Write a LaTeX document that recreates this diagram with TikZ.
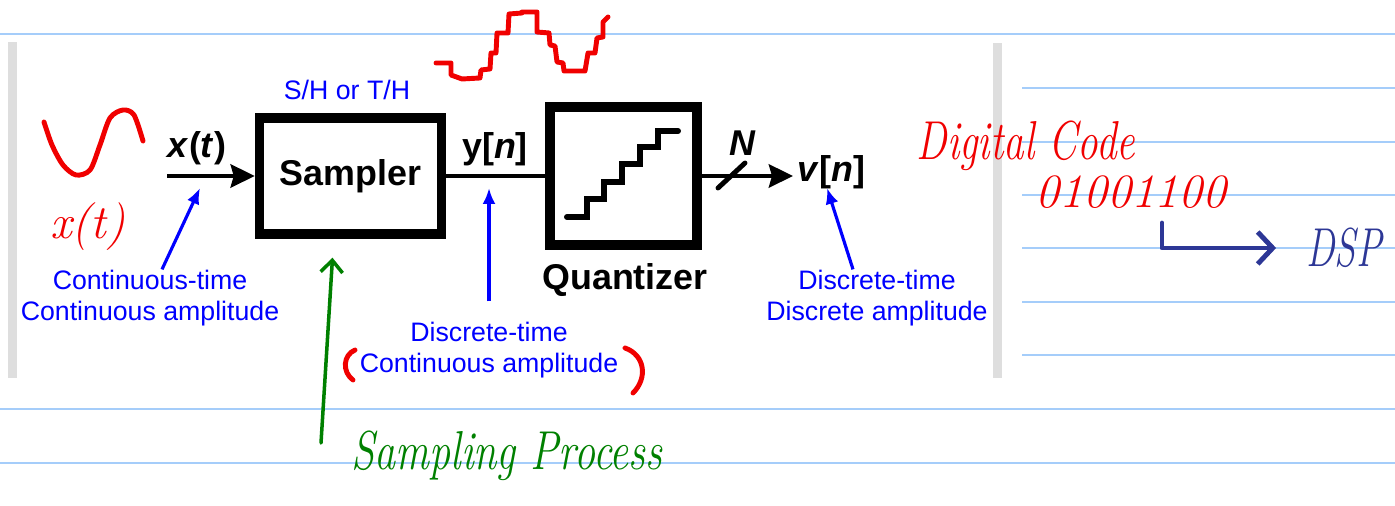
\documentclass[tikz,border=0pt]{standalone}
\usepackage{fontspec}
\newfontfamily\arialfont{Liberation Sans}
\usepackage{tikz}
\usetikzlibrary{arrows.meta,positioning,calc}
\definecolor{nbblue}{RGB}{165,205,250}
\definecolor{penred}{RGB}{240,0,0}
\definecolor{pengreen}{RGB}{0,128,0}
\definecolor{pennavy}{RGB}{45,55,150}
\definecolor{barg}{RGB}{222,222,222}

\begin{document}
\begin{tikzpicture}[>={Stealth[length=0.24cm,width=0.23cm,inset=0.03cm]},
  block/.style={draw, line width=2.7pt},
  blk/.style={font=\arialfont\fontsize{10.2}{12}\selectfont\bfseries, inner sep=1pt},
  note/.style={font=\arialfont\fontsize{7.6}{8.8}\selectfont, text=blue, align=center, inner sep=0pt},
  wire/.style={line width=1.4pt},
  ptr/.style={blue, line width=0.9pt, -{Latex[length=0.16cm,width=0.13cm]}},
  hand/.style={inner sep=0pt, font=\itshape\fontsize{#1}{#1}\selectfont},
  pen/.style={line width=1.4pt, line cap=round, line join=round},
  nbline/.style={nbblue, line width=0.8pt}]
% notebook page
\useasboundingbox (0,0) rectangle (13.95,-5.06);
\foreach \y in {0.34,4.09,4.63} \draw[nbline] (0,-\y) -- (13.95,-\y);
\foreach \y in {0.88,1.42,1.95,2.48,3.02,3.55} \draw[nbline] (10.22,-\y) -- (13.95,-\y);
\fill[barg] (0.08,-0.42) rectangle (0.17,-3.78);
\fill[barg] (9.93,-0.43) rectangle (10.02,-3.78);
% blocks
\node[block, blk, minimum width=1.82cm, minimum height=1.16cm] (samp) at (3.505,-1.76) {Sampler};
\node[block, minimum width=1.47cm, minimum height=1.38cm] (quant) at (6.235,-1.76) {};
\draw[line width=1.7pt, line cap=round] (5.67,-2.17) -| (5.87,-1.99) -| (6.04,-1.82) -| (6.22,-1.64) -| (6.40,-1.47) -| (6.58,-1.31) -- (6.78,-1.31);
\node[blk] (qlab) at (6.25,-2.80) {Quantizer};
% signals
\coordinate (xin) at (1.67,-1.76);
\draw[wire,->] (xin) -- (samp);
\draw[wire] (samp) -- (quant);
\node[blk, anchor=west, inner sep=0.04cm] (vout) at (7.93,-1.72) {\textit{v}[\textit{n}]};
\draw[wire,->] (quant.east) -- (quant.east -| vout.west);
\draw[wire, line cap=round] (7.18,-1.88) -- (7.45,-1.63);
\node[blk] (xlab) at (1.97,-1.48) {\textit{x}(\textit{t})};
\node[blk] (ylab) at (4.95,-1.49) {y[\textit{n}]};
\node[blk] (nlab) at (7.43,-1.43) {\textit{N}};
\node[note] (shlab) at (3.47,-0.90) {S/H or T/H};
% signal types
\node[note] (ct) at (1.50,-2.98) {Continuous-time\\Continuous amplitude};
\node[note] (dc) at (4.89,-3.50) {Discrete-time\\Continuous amplitude};
\node[note] (dd) at (8.77,-2.98) {Discrete-time\\Discrete amplitude};
\coordinate (xtip) at (2.00,-1.88);
\coordinate (ytip) at (4.89,-1.88);
\coordinate (vtip) at (8.27,-1.88);
\draw[ptr] ([xshift=0.12cm]ct.north) -- (xtip);
\draw[ptr] ([yshift=0.20cm]dc.north) -- (ytip);
\draw[ptr] ([xshift=-0.24cm]dd.north) -- (vtip);
% pen notes
\draw[penred, pen] plot[smooth] coordinates {(0.44,-1.22) (0.52,-1.45) (0.63,-1.65) (0.76,-1.75) (0.90,-1.70) (1.00,-1.45) (1.10,-1.18) (1.23,-1.10) (1.34,-1.15) (1.43,-1.41)};
\node[hand=13.6, text=penred] (xhand) at (0.88,-2.27) {x(t)};
\draw[penred, pen] (4.36,-0.63) -- (4.51,-0.63) -- (4.51,-0.75) -- (4.62,-0.79) -- (4.80,-0.78) -- (4.81,-0.70) -- (4.90,-0.69) -- (4.91,-0.53) -- (4.96,-0.53) -- (4.97,-0.33) -- (5.08,-0.33) -- (5.09,-0.14) -- (5.22,-0.13) -- (5.22,-0.12) -- (5.37,-0.12) -- (5.37,-0.32) -- (5.49,-0.33) -- (5.50,-0.45) -- (5.55,-0.46) -- (5.57,-0.62) -- (5.63,-0.63) -- (5.64,-0.71) -- (5.85,-0.71) -- (5.88,-0.53) -- (5.95,-0.53) -- (5.97,-0.38) -- (6.03,-0.37) -- (6.03,-0.22) -- (6.08,-0.17);
\draw[penred, pen] (3.55,-3.50) .. controls (3.43,-3.55) and (3.42,-3.72) .. (3.53,-3.80);
\draw[penred, pen] (6.25,-3.48) .. controls (6.45,-3.55) and (6.48,-3.78) .. (6.33,-3.93);
\node[hand=15.6, text=penred, xscale=0.75] (dcode) at (10.26,-1.46) {Digital Code};
\node[hand=13.6, text=penred] (bits) at (11.31,-1.92) {01001100};
\node[hand=15.6, text=pennavy, xscale=0.7] (dsp) at (13.44,-2.48) {DSP};
\draw[pennavy, pen, -{Straight Barb[length=0.15cm,width=0.32cm]}] ([xshift=0.31cm,yshift=-0.14cm]bits.south) |- ([xshift=-0.30cm]dsp.west);
\node[hand=15.6, text=pengreen, xscale=0.77] (sproc) at (5.07,-4.56) {Sampling Process};
\coordinate (gtail) at (3.21,-4.43);
\draw[pengreen, line width=1pt, line cap=round, -{Straight Barb[length=0.12cm,width=0.22cm]}] (gtail) -- ([xshift=-0.18cm,yshift=-0.19cm]samp.south);
\end{tikzpicture}
\end{document}
